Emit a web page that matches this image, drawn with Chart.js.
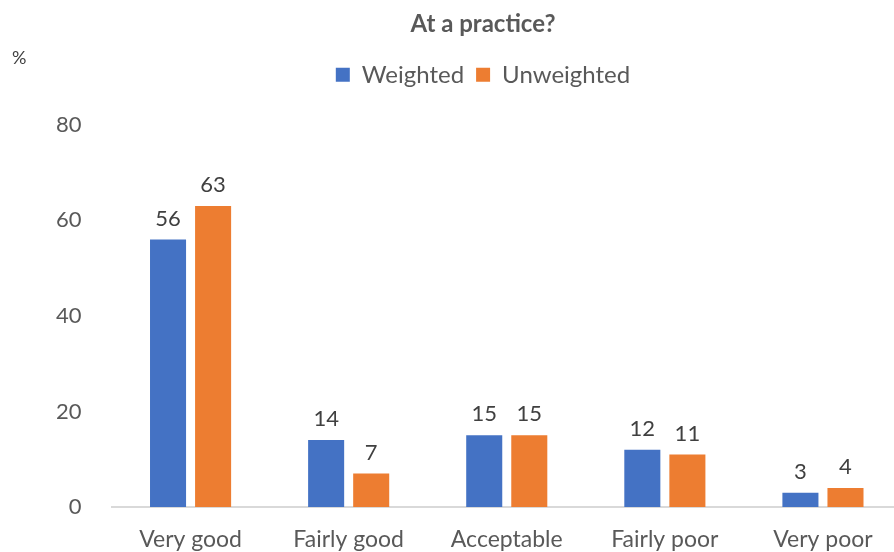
<!DOCTYPE html>
<html>
<head>
<meta charset="utf-8">
<script src="https://cdn.jsdelivr.net/npm/chart.js@4"></script>
<style>
  html, body { margin: 0; padding: 0; background: #fff; overflow: hidden; }
  #wrap { position: relative; width: 894px; height: 552px; overflow: hidden; }
  #pct { position: absolute; left: 12px; top: 46px; font: 18px Lato, sans-serif; color: #404040; }
</style>
</head>
<body>
<div id="wrap">
  <canvas id="barChart" width="910" height="552"></canvas>
  <div id="pct">%</div>
</div>
<script>
// データ
const categories = ['Very good', 'Fairly good', 'Acceptable', 'Fairly poor', 'Very poor'];
const weighted = [56, 14, 15, 12, 3];
const unweighted = [63, 7, 15, 11, 4];
const yTicks = [0, 20, 40, 60, 80];

const textColor = '#595959';
const font = 'Lato';

// 凡例の下に余白を足す
const legendMargin = {
    id: 'legendMargin',
    beforeInit(chart) {
        const fit = chart.legend.fit;
        chart.legend.fit = function() {
            fit.bind(chart.legend)();
            this.height += 28;
        };
    },
    // タイトルと凡例をプロット領域の中央に寄せる
    afterLayout(chart) {
        chart.titleBlock.left += 38;
        chart.legend.left += 38;
    }
};

// 棒の上に数値を描く
const valueLabels = {
    id: 'valueLabels',
    afterDatasetsDraw(chart) {
        const ctx = chart.ctx;
        ctx.save();
        ctx.font = '22px ' + font;
        ctx.fillStyle = '#404040';
        ctx.textAlign = 'center';
        ctx.textBaseline = 'bottom';
        chart.data.datasets.forEach((ds, i) => {
            chart.getDatasetMeta(i).data.forEach((bar, j) => {
                ctx.fillText(ds.data[j], bar.x, bar.y - 10);
            });
        });
        ctx.restore();
    }
};

const ctx = document.getElementById('barChart').getContext('2d');
new Chart(ctx, {
    type: 'bar',
    data: {
        labels: categories,
        datasets: [{
            label: 'Weighted',
            data: weighted,
            backgroundColor: '#4472C4',
            barPercentage: 0.8,
            categoryPercentage: 0.57
        }, {
            label: 'Unweighted',
            data: unweighted,
            backgroundColor: '#ED7D31',
            barPercentage: 0.8,
            categoryPercentage: 0.57
        }]
    },
    options: {
        responsive: false,
        animation: false,
        layout: { padding: { left: 26, right: 8, top: 0, bottom: 0 } },
        plugins: {
            title: {
                display: true,
                text: 'At a practice?',
                color: textColor,
                font: { family: font, size: 24, weight: 'bold' },
                padding: { top: 10, bottom: 12 }
            },
            legend: {
                display: true,
                labels: {
                    color: textColor,
                    font: { family: font, size: 24 },
                    boxWidth: 14,
                    boxHeight: 14,
                    padding: 12
                }
            },
            tooltip: { enabled: false }
        },
        scales: {
            x: {
                afterFit(axis) { axis.height = 45; },
                grid: { display: false, drawTicks: false },
                border: { display: true, color: '#d9d9d9', width: 2 },
                ticks: { color: textColor, font: { family: font, size: 23 }, padding: 19 }
            },
            y: {
                min: 0,
                max: 80,
                afterBuildTicks(axis) { axis.ticks = yTicks.map(v => ({ value: v })); },
                grid: { display: false, drawTicks: false },
                border: { display: false },
                ticks: { color: textColor, font: { family: font, size: 22 }, padding: 30 }
            }
        }
    },
    plugins: [legendMargin, valueLabels]
});
</script>
</body>
</html>
